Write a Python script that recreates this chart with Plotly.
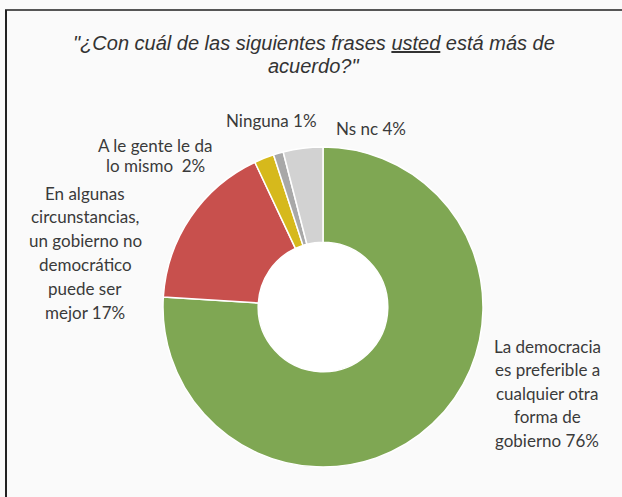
import plotly.graph_objects as go

categories = [
    "La democracia es preferible a cualquier otra forma de gobierno",
    "En algunas circunstancias, un gobierno no democrático puede ser mejor",
    "A le gente le da lo mismo",
    "Ninguna",
    "Ns nc",
]
values = [76, 17, 2, 1, 4]
label_lines = [
    ["La democracia", "es preferible a", "cualquier otra", "forma de", "gobierno 76%"],
    ["En algunas", "circunstancias,", "un gobierno no", "democrático", "puede ser", "mejor 17%"],
    ["A le gente le da", "lo mismo  2%"],
    ["Ninguna 1%"],
    ["Ns nc 4%"],
]
title_lines = ["\"¿Con cuál de las siguientes frases <u>usted</u> está más de", "acuerdo?\""]
colors = ["#7FA753", "#C8504D", "#D6B91C", "#A8A8A8", "#D2D2D2"]

W, H = 622, 497
cx, cy, R = 323, 307, 160
hole = 0.405

fig = go.Figure()
fig.add_trace(go.Pie(
    labels=categories, values=values, sort=False, direction="clockwise",
    rotation=0, hole=hole, textinfo="none", hoverinfo="label+percent",
    marker=dict(colors=colors, line=dict(color="white", width=1.5)),
    domain=dict(x=[(cx - R) / W, (cx + R) / W], y=[(H - cy - R) / H, (H - cy + R) / H]),
    showlegend=False,
))

# white hole
hr = R * hole
fig.add_shape(type="circle", xref="paper", yref="paper",
              x0=(cx - hr) / W, x1=(cx + hr) / W,
              y0=(H - cy - hr) / H, y1=(H - cy + hr) / H,
              fillcolor="white", line=dict(width=0), layer="below")

# frame lines (top and left)
fig.add_shape(type="line", xref="paper", yref="paper", x0=5 / W, x1=1, y0=(H - 10) / H, y1=(H - 10) / H,
              line=dict(color="#555555", width=2))
fig.add_shape(type="line", xref="paper", yref="paper", x0=6 / W, x1=6 / W, y0=0, y1=(H - 10) / H,
              line=dict(color="#222222", width=2))

# label positions: (centre x, centre y of first line, line spacing) in pixels
label_pos = [(547, 346, 23.5), (85, 193, 23.8), (155, 145, 21), (271, 120, 0), (371, 128, 0)]
lab_font = dict(family="Lato, Open Sans, sans-serif", size=17, color="#3A3A3A")
for lines, (x, y, dy) in zip(label_lines, label_pos):
    for i, ln in enumerate(lines):
        fig.add_annotation(text=ln, x=x / W, y=(H - (y + i * dy)) / H, xref="paper", yref="paper",
                           xanchor="center", yanchor="middle", showarrow=False, align="center",
                           font=lab_font)

for i, ln in enumerate(title_lines):
    fig.add_annotation(
        text="<i>" + ln + "</i>",
        x=314 / W, y=(H - (43 + i * 23)) / H, xref="paper", yref="paper",
        xanchor="center", yanchor="middle", showarrow=False, align="center",
        font=dict(family="Liberation Sans, Arial, sans-serif", size=20, color="#333333"))

fig.update_layout(width=W, height=H, margin=dict(l=0, r=0, t=0, b=0),
                  paper_bgcolor="#FAFAFA", plot_bgcolor="#FAFAFA")
fig.write_html("out.html", config={"displayModeBar": False},
               post_script="document.body.style.margin='0';document.body.style.overflow='hidden';")
